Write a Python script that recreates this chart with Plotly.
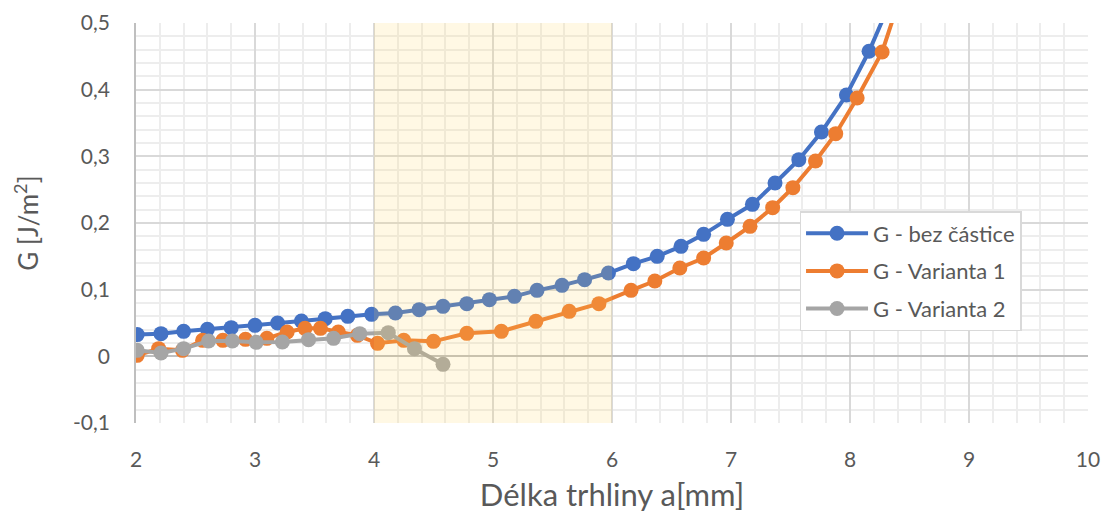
import plotly.graph_objects as go

# ---- data ----
blue_name = "G - bez částice"
blue_x = [2.01, 2.21, 2.40, 2.60, 2.80, 3.00, 3.19, 3.39, 3.59, 3.78, 3.98, 4.18, 4.38, 4.58,
          4.78, 4.97, 5.18, 5.37, 5.58, 5.77, 5.97, 6.18, 6.38, 6.58, 6.77, 6.97, 7.18, 7.37,
          7.57, 7.76, 7.97, 8.16, 8.36]
blue_y = [0.0326, 0.034, 0.0375, 0.0405, 0.043, 0.0465, 0.050, 0.053, 0.0565, 0.060, 0.063,
          0.065, 0.070, 0.075, 0.079, 0.085, 0.090, 0.099, 0.1065, 0.115, 0.125, 0.139, 0.150,
          0.165, 0.183, 0.2055, 0.228, 0.260, 0.295, 0.3365, 0.392, 0.4576, 0.54]

orange_name = "G - Varianta 1"
orange_x = [2.01, 2.19, 2.39, 2.56, 2.73, 2.92, 3.10, 3.27, 3.42, 3.55, 3.70, 3.86, 4.03, 4.25,
            4.50, 4.78, 5.07, 5.36, 5.64, 5.89, 6.16, 6.36, 6.57, 6.77, 6.96, 7.16, 7.35, 7.52,
            7.71, 7.88, 8.06, 8.27, 8.46]
orange_y = [0.0015, 0.0115, 0.009, 0.024, 0.024, 0.0255, 0.027, 0.0365, 0.042, 0.042, 0.0365,
            0.0315, 0.0195, 0.024, 0.0225, 0.0345, 0.0375, 0.0525, 0.0675, 0.079, 0.099, 0.113,
            0.1325, 0.1475, 0.170, 0.195, 0.223, 0.253, 0.293, 0.334, 0.3875, 0.4566, 0.56]

grey_name = "G - Varianta 2"
grey_x = [2.01, 2.21, 2.40, 2.61, 2.81, 3.01, 3.23, 3.45, 3.66, 3.88, 4.12, 4.34, 4.58]
grey_y = [0.009, 0.005, 0.0115, 0.023, 0.023, 0.021, 0.0215, 0.025, 0.027, 0.034, 0.0355,
          0.0115, -0.012]

x_ticks = [2, 3, 4, 5, 6, 7, 8, 9, 10]
y_ticks = [-0.1, 0, 0.1, 0.2, 0.3, 0.4, 0.5]
y_tick_labels = ["-0,1", "0", "0,1", "0,2", "0,3", "0,4", "0,5"]

band_x = [4, 6]           # highlighted interval on the x axis
x_range = [2, 10]
y_range = [-0.1, 0.5]

x_title = "Délka trhliny a[mm]"
y_title = "G [J/m<sup>2</sup>]"

# ---- styling ----
FONT = "Lato"
TXT = "#595959"
COLORS = {"blue": "#4472C4", "orange": "#ED7D31", "grey": "#A5A5A5"}

fig = go.Figure()
for name, xs, ys, c in [(blue_name, blue_x, blue_y, COLORS["blue"]),
                        (orange_name, orange_x, orange_y, COLORS["orange"]),
                        (grey_name, grey_x, grey_y, COLORS["grey"])]:
    fig.add_trace(go.Scatter(
        x=xs, y=ys, name=name, mode="lines+markers", legendgroup=name,
        line=dict(color=c, width=4),
        marker=dict(color=c, size=15, line=dict(width=0)),
    ))

fig.add_shape(type="rect", xref="x", yref="y",
              x0=band_x[0], x1=band_x[1], y0=y_range[0], y1=y_range[1],
              fillcolor="rgba(255,210,90,0.16)", line=dict(width=0), layer="above")

fig.update_layout(
    width=1106, height=517,
    margin=dict(l=136, r=18, t=23, b=94, autoexpand=False),
    paper_bgcolor="white", plot_bgcolor="white",
    font=dict(family=FONT, color=TXT, size=21),
    showlegend=True,
    legend=dict(
        x=0.697, y=0.53, xanchor="left", yanchor="top",
        bgcolor="white", bordercolor="#D9D9D9", borderwidth=1.5,
        font=dict(family=FONT, size=22, color=TXT),
        tracegroupgap=6, itemwidth=62,
    ),
)

fig.update_xaxes(
    range=x_range, tickvals=x_ticks, ticktext=[str(v) for v in x_ticks],
    showgrid=True, gridcolor="#D9D9D9", gridwidth=1.5,
    minor=dict(dtick=0.2, showgrid=True, gridcolor="#EDEDED", gridwidth=1.5),
    zeroline=False, showline=False, ticks="",
    ticklabelstandoff=22,
    tickfont=dict(family=FONT, size=21, color=TXT),
    title=dict(text=x_title, font=dict(family=FONT, size=31, color=TXT), standoff=14),
)
fig.update_yaxes(
    range=y_range, tickvals=y_ticks, ticktext=y_tick_labels,
    showgrid=True, gridcolor="#D9D9D9", gridwidth=1.5,
    minor=dict(dtick=0.02, tick0=0, showgrid=True, gridcolor="#EDEDED", gridwidth=1.5),
    zeroline=True, zerolinecolor="#BFBFBF", zerolinewidth=1.8,
    showline=True, linecolor="#BFBFBF", linewidth=1.8, mirror=False,
    ticks="", ticklabelstandoff=20,
    tickfont=dict(family=FONT, size=21, color=TXT),
    title=dict(text=y_title, font=dict(family=FONT, size=26, color=TXT), standoff=27),
)

fig.write_html("out.html", config={"displayModeBar": False},
               post_script="document.body.style.margin='0';")
